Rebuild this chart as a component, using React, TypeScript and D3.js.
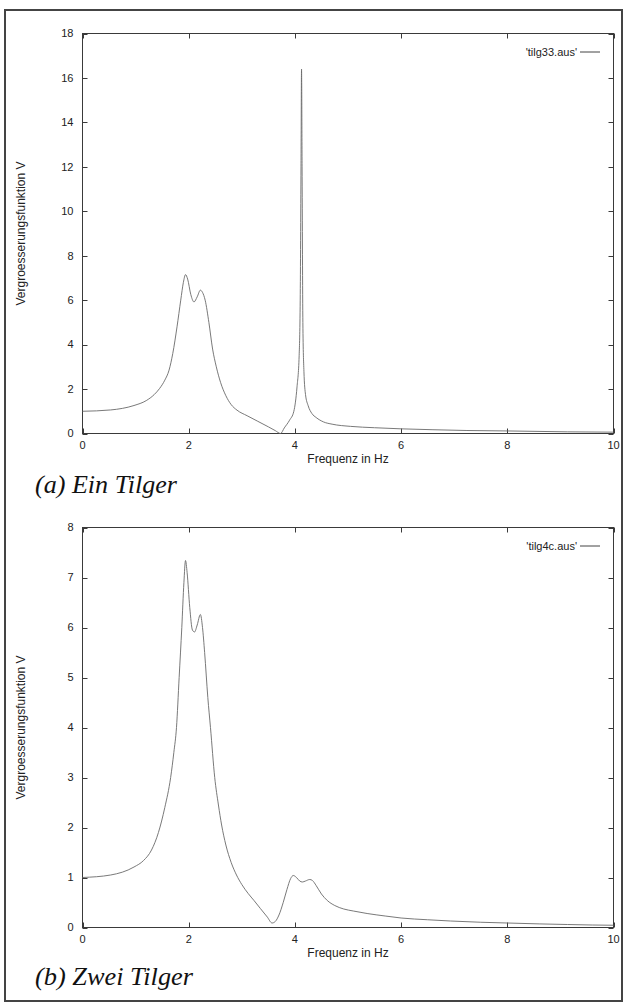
import React from 'react';
import * as d3 from 'd3';

// Frequency axis ticks (Hz), shared by both panels
const freqTicks = [0, 2, 4, 6, 8, 10];

// Panel (a): one absorber — ticks and response curve
const ampTicksA = [0, 2, 4, 6, 8, 10, 12, 14, 16, 18];
const freqA = [
  0, 0.53, 0.97, 1.2, 1.35, 1.45, 1.55, 1.63, 1.7, 1.78, 1.85, 1.9, 1.94, 1.98, 2.04, 2.1, 2.16,
  2.22, 2.26, 2.31, 2.38, 2.45, 2.52, 2.6, 2.7, 2.8, 2.91, 3.1, 3.3, 3.5, 3.63, 3.73, 3.8, 3.9,
  3.98, 4.04, 4.08, 4.1, 4.115, 4.125, 4.135, 4.15, 4.17, 4.2, 4.25, 4.32, 4.4, 4.54, 4.7, 5.05,
  5.5, 6.0, 6.6, 7.24, 8.0, 9.13, 10,
];
const ampA = [
  1.0, 1.06, 1.26, 1.48, 1.75, 2.02, 2.4, 2.85, 3.6, 4.8, 6.0, 6.8, 7.15, 6.95, 6.25, 5.92, 6.15,
  6.45, 6.35, 6.0, 5.0, 3.8, 3.0, 2.3, 1.7, 1.3, 1.05, 0.8, 0.55, 0.3, 0.13, 0.0, 0.25, 0.6,
  1.0, 2.1, 3.5, 6.0, 12.0, 16.4, 12.0, 5.0, 2.8, 1.75, 1.25, 0.9, 0.72, 0.52, 0.42, 0.32,
  0.26, 0.21, 0.17, 0.135, 0.115, 0.075, 0.06,
];

// Panel (b): two absorbers — ticks and response curve
const ampTicksB = [0, 1, 2, 3, 4, 5, 6, 7, 8];
const freqB = [
  0, 0.53, 0.97, 1.15, 1.3, 1.43, 1.55, 1.66, 1.72, 1.77, 1.82, 1.87, 1.91, 1.94, 1.97, 2.02,
  2.07, 2.11, 2.16, 2.22, 2.26, 2.3, 2.36, 2.41, 2.49, 2.56, 2.62, 2.7, 2.8, 2.9, 3.0, 3.12,
  3.23, 3.35, 3.48, 3.57, 3.63, 3.7, 3.78, 3.85, 3.92, 3.97, 4.03, 4.09, 4.14, 4.2, 4.28, 4.33,
  4.4, 4.5, 4.61, 4.75, 4.92, 5.1, 5.36, 5.7, 6.0, 6.5, 6.93, 7.5, 8.0, 8.6, 9.13, 9.6, 10,
];
const ampB = [
  1.0, 1.05, 1.21, 1.34, 1.55, 1.9, 2.4, 3.0, 3.5, 4.0, 5.0, 6.0, 6.9, 7.34, 7.1, 6.4,
  5.95, 5.91, 6.05, 6.26, 6.0, 5.5, 4.6, 4.0, 3.0, 2.45, 2.05, 1.65, 1.3, 1.05, 0.86, 0.68,
  0.54, 0.38, 0.21, 0.09, 0.12, 0.25, 0.5, 0.76, 0.98, 1.04, 1.0, 0.93, 0.91, 0.93, 0.96, 0.94,
  0.84, 0.67, 0.54, 0.44, 0.37, 0.33, 0.28, 0.23, 0.19, 0.155, 0.13, 0.105, 0.09, 0.072, 0.06,
  0.05, 0.045,
];

const SANS = '"Liberation Sans", Arial, Helvetica, sans-serif';
const SERIF = '"Times New Roman", "Liberation Serif", Times, serif';

const LEFT = 82.5;
const RIGHT = 613.5;

interface PanelProps {
  top: number;
  bottom: number;
  yTicks: number[];
  freq: number[];
  amp: number[];
  legend: string;
  caption: string;
  captionY: number;
  captionWidth: number;
}

function Panel({ top, bottom, yTicks, freq, amp, legend, caption, captionY, captionWidth }: PanelProps) {
  const x = d3.scaleLinear().domain([0, 10]).range([LEFT, RIGHT]);
  const y = d3
    .scaleLinear()
    .domain([0, yTicks[yTicks.length - 1]])
    .range([bottom, top]);

  const pts: [number, number][] = freq.map((f, i) => [f, amp[i]]);
  const line = d3
    .line<[number, number]>()
    .x((d) => x(d[0]))
    .y((d) => y(d[1]))
    .curve(d3.curveMonotoneX);

  const tick = 5;
  const axisColor = '#3a3a3a';

  return (
    <g>
      {/* y ticks, mirrored on the right */}
      {yTicks.map((t) => (
        <g key={'y' + t}>
          <line x1={LEFT} x2={LEFT + tick} y1={Math.round(y(t)) + 0.5} y2={Math.round(y(t)) + 0.5} stroke={axisColor} />
          <line x1={RIGHT - tick} x2={RIGHT} y1={Math.round(y(t)) + 0.5} y2={Math.round(y(t)) + 0.5} stroke={axisColor} />
          <text x={LEFT - 9} y={y(t)} dy="0.35em" textAnchor="end" fontFamily={SANS} fontSize={11} fill="#222">
            {t}
          </text>
        </g>
      ))}
      {/* x ticks, mirrored on the top */}
      {freqTicks.map((t) => (
        <g key={'x' + t}>
          <line x1={Math.round(x(t)) + 0.5} x2={Math.round(x(t)) + 0.5} y1={bottom} y2={bottom - tick} stroke={axisColor} />
          <line x1={Math.round(x(t)) + 0.5} x2={Math.round(x(t)) + 0.5} y1={top} y2={top + tick} stroke={axisColor} />
          <text x={x(t)} y={bottom + 12} dy="0.35em" textAnchor="middle" fontFamily={SANS} fontSize={11} fill="#222">
            {t}
          </text>
        </g>
      ))}
      <rect x={LEFT} y={top} width={RIGHT - LEFT} height={bottom - top} fill="none" stroke={axisColor} strokeWidth={1} />

      {/* response curve */}
      <path d={line(pts) ?? ''} fill="none" stroke="#6a6a6a" strokeWidth={0.9} strokeLinejoin="round" />

      {/* legend */}
      <text x={577} y={top + 19} dy="0.35em" textAnchor="end" fontFamily={SANS} fontSize={11} fill="#222">
        {legend}
      </text>
      <line x1={580} x2={600} y1={top + 18.5} y2={top + 18.5} stroke="#444" strokeWidth={1} />

      {/* axis titles */}
      <text x={(LEFT + RIGHT) / 2} y={bottom + 25} dy="0.35em" textAnchor="middle" fontFamily={SANS} fontSize={12} fill="#222">
        Frequenz in Hz
      </text>
      <text
        transform={`translate(21,${(top + bottom) / 2}) rotate(-90)`}
        textAnchor="middle"
        dy="0.35em"
        fontFamily={SANS}
        fontSize={12}
        fill="#222"
      >
        Vergroesserungsfunktion V
      </text>

      {/* caption */}
      <text
        x={35}
        y={captionY}
        fontFamily={SERIF}
        fontStyle="italic"
        fontSize={25}
        fill="#111"
        textLength={captionWidth}
        lengthAdjust="spacingAndGlyphs"
      >
        {caption}
      </text>
    </g>
  );
}

export default function App() {
  return (
    <svg
      width={624}
      height={1003}
      viewBox="0 0 624 1003"
      style={{ position: 'absolute', left: 0, top: 0, background: '#fff' }}
    >
      <rect x={0} y={0} width={624} height={1003} fill="#fff" />
      <rect x={5} y={10} width={617} height={991} fill="none" stroke="#444" strokeWidth={2} />
      <Panel
        top={33.5}
        bottom={433.5}
        yTicks={ampTicksA}
        freq={freqA}
        amp={ampA}
        legend="'tilg33.aus'"
        caption="(a) Ein Tilger"
        captionY={493}
        captionWidth={142}
      />
      <Panel
        top={527.5}
        bottom={927.5}
        yTicks={ampTicksB}
        freq={freqB}
        amp={ampB}
        legend="'tilg4c.aus'"
        caption="(b) Zwei Tilger"
        captionY={985}
        captionWidth={158}
      />
    </svg>
  );
}
